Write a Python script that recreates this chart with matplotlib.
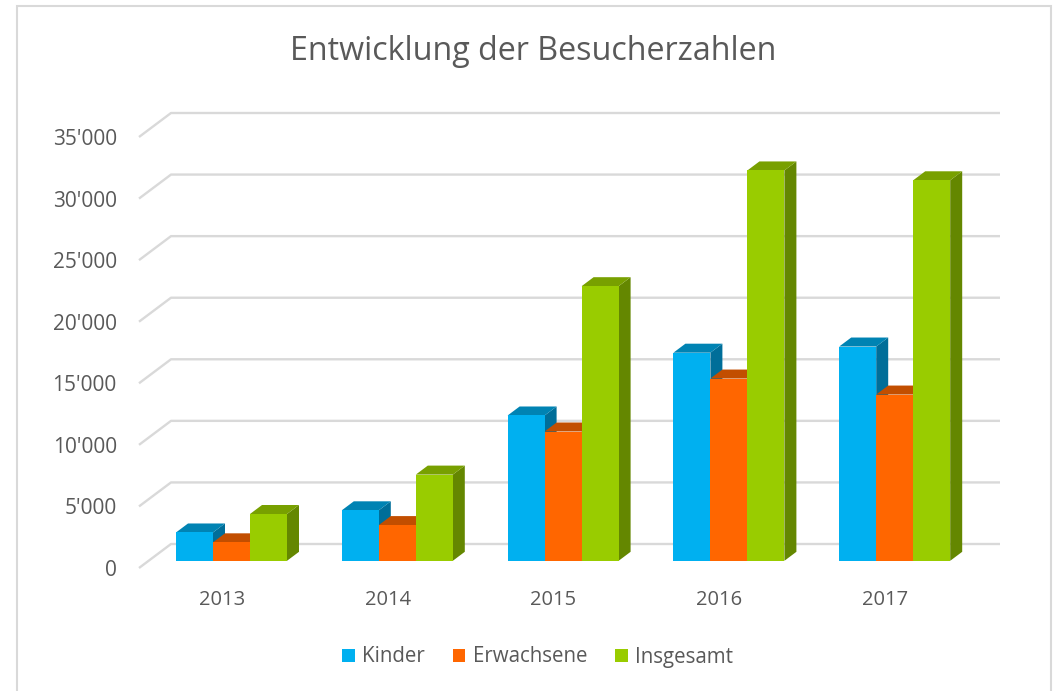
import matplotlib
matplotlib.use("Agg")
import matplotlib.pyplot as plt
from matplotlib.patches import Polygon, Patch, Rectangle
from matplotlib.ticker import FuncFormatter

years = ["2013", "2014", "2015", "2016", "2017"]
series_names = ["Kinder", "Erwachsene", "Insgesamt"]
kinder = [2300, 4100, 11800, 16900, 17400]
erwachsene = [1500, 2900, 10500, 14800, 13500]
insgesamt = [3800, 7000, 22300, 31700, 30900]
values = [kinder, erwachsene, insgesamt]
yticks = list(range(0, 35001, 5000))

front_cols = ["#00B0F0", "#FF6600", "#99CC00"]
top_cols = ["#0083B3", "#C24E00", "#78A000"]
side_cols = ["#006E99", "#A34100", "#648700"]

plt.rcParams['font.family'] = ['Open Sans', 'DejaVu Sans']
txt = "#595959"
grid_col = "#D9D9D9"

W, H = 1055, 691
fig = plt.figure(figsize=(W / 100, H / 100), dpi=100)

# plot area (front plane)
L, R, T, B = 139, 968, 137, 568
ax = fig.add_axes([L / W, 1 - B / H, (R - L) / W, (B - T) / H])
ax.set_xlim(-0.5, 4.5)
ax.set_ylim(0, 35000)
for s in ax.spines.values():
    s.set_visible(False)
ax.patch.set_alpha(0)

# depth of the back wall, in data units
px_x = 5 / (R - L)
px_y = 35000 / (B - T)
DX, DY = 32 * px_x, 24 * px_y

# gridlines on floor/back wall
for v in yticks:
    ax.plot([-0.5, -0.5 + DX, 4.5 + DX], [v, v + DY, v + DY],
            color=grid_col, lw=1.7, zorder=0, clip_on=False,
            solid_capstyle='butt')

# bars
f0, f1 = 0.3, 0.675
bw = 37 / 165.8
k = 0
for i in range(len(years)):
    for j in range(3):
        v = values[j][i]
        x0 = i + (j - 1.5) * bw + f0 * DX
        x1 = x0 + bw
        ox, oy = (f1 - f0) * DX, (f1 - f0) * DY
        b0 = f0 * DY
        z = 2 + 0.1 * k
        side = Polygon([(x1, b0), (x1, b0 + v), (x1 + ox, b0 + v + oy), (x1 + ox, b0 + oy)],
                       closed=True, facecolor=side_cols[j], edgecolor='none', zorder=z, clip_on=False)
        top = Polygon([(x0, b0 + v), (x1, b0 + v), (x1 + ox, b0 + v + oy), (x0 + ox, b0 + v + oy)],
                      closed=True, facecolor=top_cols[j], edgecolor='none', zorder=z, clip_on=False)
        ax.add_patch(side)
        ax.add_patch(top)
        ax.bar(x0, v, width=bw, bottom=b0, align='edge', color=front_cols[j],
               edgecolor='none', zorder=z + 0.05, clip_on=False)
        k += 1

# ticks
ax.set_yticks(yticks)
ax.yaxis.set_major_formatter(FuncFormatter(lambda v, p: f"{int(v):,}".replace(",", "'")))
ax.set_xticks(range(len(years)))
ax.set_xticklabels(years)
ax.tick_params(axis='y', length=0, pad=16, labelsize=15, labelcolor=txt)
ax.tick_params(axis='x', length=0, pad=16, labelsize=14.5, labelcolor=txt)

# title
fig.text(533.5 / W, 1 - 51 / H, "Entwicklung der Besucherzahlen", ha='center', va='center',
         fontsize=23.2, color=txt)

# legend
handles = [Patch(facecolor=c, edgecolor='none', label=n) for c, n in zip(front_cols, series_names)]
fig.legend(handles=handles, loc='center', bbox_to_anchor=(537.5 / W, 1 - 657 / H), ncol=3,
           frameon=False, fontsize=14.8, labelcolor=txt, handlelength=0.62, handleheight=0.62,
           handletextpad=0.35, columnspacing=1.35)

# chart border
fig.patches.append(Rectangle((17 / W, -0.05), (1051 - 17) / W, 1.05 - 6 / H,
                             transform=fig.transFigure, fill=False, edgecolor=grid_col, lw=1.5))

fig.savefig("out.png", dpi=100)
